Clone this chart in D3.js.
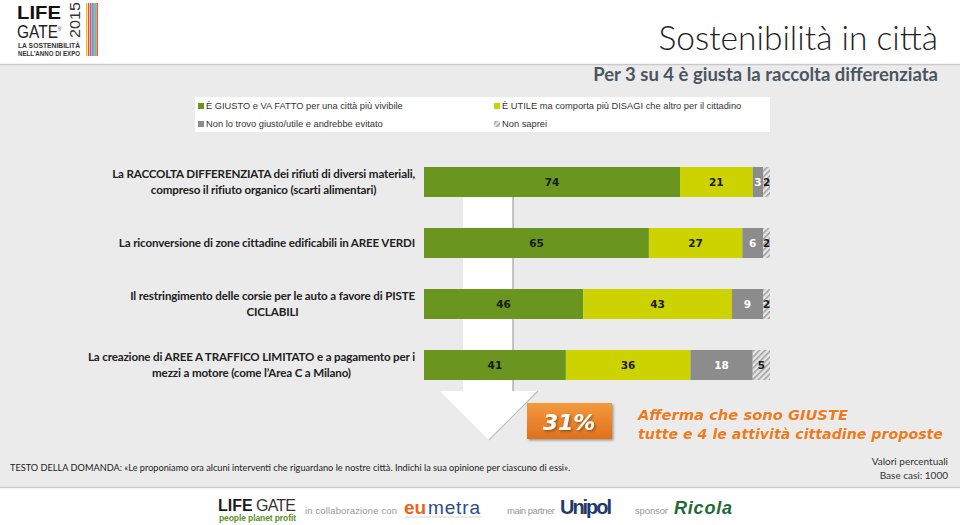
<!DOCTYPE html>
<html><head><meta charset="utf-8">
<script src="https://cdn.jsdelivr.net/npm/d3@7"></script>
<style>
html,body{margin:0;padding:0;background:#fff;}
svg{display:block;}
</style></head>
<body>
<svg id="c" width="960" height="525"></svg>
<script>
// ---- DATA ----
const categories = [
  ["La RACCOLTA DIFFERENZIATA dei rifiuti di diversi materiali,", "compreso il rifiuto organico (scarti alimentari)"],
  ["La riconversione di zone cittadine edificabili in AREE VERDI"],
  ["Il restringimento delle corsie per le auto a favore di PISTE", "CICLABILI"],
  ["La creazione di AREE A TRAFFICO LIMITATO e a pagamento per i", "mezzi a motore (come l\u2019Area C a Milano)"]
];
const giusto    = [74, 65, 46, 41];
const utile     = [21, 27, 43, 36];
const nonGiusto = [3, 6, 9, 18];
const nonSaprei = [2, 2, 2, 5];
const seriesNames = [
  "\u00C8 GIUSTO e VA FATTO per una citt\u00E0 pi\u00F9 vivibile",
  "\u00C8 UTILE ma comporta pi\u00F9 DISAGI che altro per il cittadino",
  "Non lo trovo giusto/utile e andrebbe evitato",
  "Non saprei"
];
const highlightValue = "31%";

// ---- DRAW ----
const svg = d3.select("#c");
const defs = svg.append("defs");
const pat = defs.append("pattern").attr("id","hatch").attr("patternUnits","userSpaceOnUse")
  .attr("width",4).attr("height",4).attr("patternTransform","rotate(45)");
pat.append("rect").attr("width",4).attr("height",4).attr("fill","#e6e6e6");
pat.append("rect").attr("width",1.5).attr("height",4).attr("fill","#9e9e9e");
const og = defs.append("linearGradient").attr("id","og").attr("x1",0).attr("y1",0).attr("x2",0).attr("y2",1);
og.append("stop").attr("offset","0%").attr("stop-color","#f39a3e");
og.append("stop").attr("offset","100%").attr("stop-color","#e0701c");
const sh = defs.append("filter").attr("id","sh").attr("x","-20%").attr("y","-20%").attr("width","140%").attr("height","140%");
sh.append("feDropShadow").attr("dx",1.5).attr("dy",1.5).attr("stdDeviation",1).attr("flood-color","#000").attr("flood-opacity",0.35);

// background band
svg.append("rect").attr("x",0).attr("y",64).attr("width",960).attr("height",424).attr("fill","#ebebeb");
svg.append("line").attr("x1",0).attr("x2",960).attr("y1",64.5).attr("y2",64.5).attr("stroke","#c9c9c9").attr("stroke-width",1.5);
svg.append("line").attr("x1",0).attr("x2",960).attr("y1",487.5).attr("y2",487.5).attr("stroke","#c9c9c9").attr("stroke-width",1.5);

// top-left logo
const lg = svg.append("g");
lg.append("text").attr("x",17).attr("y",19).text("LIFE").attr("textLength",44).attr("lengthAdjust","spacingAndGlyphs")
  .attr("font-family","Liberation Sans, Arial").attr("font-weight","bold").attr("font-size",19).attr("fill","#111");
const gate = lg.append("text").attr("transform","translate(17,38) scale(0.86,1)")
  .attr("font-family","Liberation Sans, Arial").attr("font-size",18).attr("fill","#222");
gate.append("tspan").text("GATE");
gate.append("tspan").attr("font-size",5).attr("dy",-7).text("\u00AE");
lg.append("text").attr("transform","translate(80,38) rotate(-90)").text("2015").attr("lengthAdjust","spacingAndGlyphs")
  .attr("font-family","Liberation Sans, Arial").attr("font-size",14).attr("fill","#333").attr("textLength",36);
lg.append("text").attr("x",18).attr("y",48).text("LA SOSTENIBILIT\u00C0").attr("lengthAdjust","spacingAndGlyphs")
  .attr("font-family","Liberation Sans, Arial").attr("font-weight","bold").attr("font-size",6.5).attr("fill","#333").attr("textLength",62);
lg.append("text").attr("x",18).attr("y",56).text("NELL\u2019ANNO DI EXPO").attr("lengthAdjust","spacingAndGlyphs")
  .attr("font-family","Liberation Sans, Arial").attr("font-weight","bold").attr("font-size",6.5).attr("fill","#333").attr("textLength",62);
const stripeCols = ["#f2c200","#e4402e","#9a3f95","#2e6db4","#3aa44a","#d6302a"];
stripeCols.forEach((c,i)=>{
  lg.append("rect").attr("x",86+i*2.1).attr("y",3).attr("width",1.3).attr("height",53).attr("fill",c);
});

// title
svg.append("text").attr("x",938).attr("y",50).attr("text-anchor","end").text("Sostenibilit\u00E0 in citt\u00E0")
  .attr("font-family","Lato, Open Sans, sans-serif").attr("font-weight",300).attr("font-size",33.5).attr("fill","#222");
svg.append("text").attr("x",938).attr("y",81).attr("text-anchor","end").text("Per 3 su 4 \u00E8 giusta la raccolta differenziata")
  .attr("font-family","Lato, Open Sans, sans-serif").attr("font-weight","bold").attr("font-size",18.5).attr("fill","#4b5661");

// legend
const colors = ["#6a961f","#ccd300","#8c8c8c","url(#hatch)"];
svg.append("rect").attr("x",195).attr("y",97).attr("width",575).attr("height",35).attr("fill","#fff");
const legPos = [[198,103],[494,103],[198,121],[494,121]];
seriesNames.forEach((n,i)=>{
  const [lx,ly] = legPos[i];
  svg.append("rect").attr("x",lx).attr("y",ly).attr("width",6).attr("height",6).attr("fill",colors[i]);
  svg.append("text").attr("x",lx+8).attr("y",ly+6.3).text(n)
    .attr("font-family","Liberation Sans, Arial, sans-serif").attr("font-size",9.3).attr("fill","#333");
});

// scales
const x = d3.scaleLinear().domain([0,100]).range([424,770]);
const y = d3.scaleBand().domain(d3.range(categories.length)).range([167,380]).paddingInner(31/61).paddingOuter(0);

// arrow shaft
const shaftTop = y(0)+y.bandwidth();
const shaftBottom = 391;
svg.append("rect").attr("x",463).attr("y",shaftTop).attr("width",50).attr("height",shaftBottom-shaftTop).attr("fill","#fff");
svg.append("line").attr("x1",513).attr("x2",513).attr("y1",shaftTop).attr("y2",shaftBottom).attr("stroke","#8e8e8e").attr("stroke-width",1);
svg.append("path").attr("d","M440,391 L538,391 L489,440 Z").attr("fill","#fff");
svg.append("path").attr("d","M538,391 L489,440").attr("stroke","#bdbdbd").attr("stroke-width",1.2).attr("fill","none");

// bars
const series = [giusto, utile, nonGiusto, nonSaprei];
const labelColors = ["#1a1a1a","#1a1a1a","#ffffff","#1a1a1a"];
const stacked = categories.map((c,i)=>{
  let acc = 0;
  return series.map((s,k)=>{ const d = {i,k,v:s[i],x0:acc,x1:acc+s[i]}; acc += s[i]; return d; });
});
const bars = svg.append("g");
stacked.forEach(row=>{
  row.forEach(d=>{
    bars.append("rect").attr("x",x(d.x0)).attr("y",y(d.i)).attr("width",x(d.x1)-x(d.x0)).attr("height",y.bandwidth())
      .attr("fill",colors[d.k]);
  });
  row.forEach(d=>{
    bars.append("text").attr("x",(x(d.x0)+x(d.x1))/2).attr("y",y(d.i)+y.bandwidth()/2+4)
      .attr("text-anchor","middle").text(d.v)
      .attr("font-family","DejaVu Sans, Verdana, sans-serif").attr("font-weight","bold").attr("font-size",10.5)
      .attr("fill",labelColors[d.k]);
  });
});

// category labels
const catG = svg.append("g");
categories.forEach((lines,i)=>{
  const cy = y(i)+y.bandwidth()/2;
  const t = catG.append("text").attr("font-family","Lato, Open Sans, sans-serif").attr("font-weight","bold")
    .attr("font-size",11.6).attr("letter-spacing",-0.15).attr("fill","#222").attr("text-anchor","middle");
  const lh = 16;
  const tspans = lines.map((l,j)=> t.append("tspan").attr("x",0).attr("y",cy + (j-(lines.length-1)/2)*lh + 4.2).text(l));
  const w = d3.max(tspans, s=> s.node().getComputedTextLength());
  tspans.forEach(s=> s.attr("x", 415 - w/2));
});

// highlight box
svg.append("rect").attr("x",527).attr("y",403).attr("width",85).attr("height",36).attr("fill","url(#og)").attr("filter","url(#sh)");
svg.append("text").attr("x",569).attr("y",430).attr("text-anchor","middle").text(highlightValue)
  .attr("font-family","DejaVu Sans, Verdana, sans-serif").attr("font-weight","bold").attr("font-style","italic")
  .attr("font-size",22).attr("fill","#fff").attr("filter","url(#sh)");
const hl = [["Afferma che sono GIUSTE",420,210],["tutte e 4 le attivit\u00E0 cittadine proposte",439,305]];
hl.forEach(([s,yy,w])=>{
  svg.append("text").attr("x",638).attr("y",yy).text(s).attr("textLength",w).attr("lengthAdjust","spacingAndGlyphs")
    .attr("font-family","DejaVu Sans, Verdana, sans-serif").attr("font-weight","bold").attr("font-style","italic")
    .attr("font-size",14.5).attr("fill","#ee7a1c").attr("stroke","#fff").attr("stroke-width",0.6).attr("paint-order","stroke");
});

// question text
svg.append("text").attr("x",10).attr("y",471).text("TESTO DELLA DOMANDA: \u00ABLe proponiamo ora alcuni interventi che riguardano le nostre citt\u00E0. Indichi la sua opinione per ciascuno di essi\u00BB.")
  .attr("font-family","Lato, Open Sans, sans-serif").attr("font-size",9.2).attr("fill","#222");
svg.append("text").attr("x",948).attr("y",465).attr("text-anchor","end").text("Valori percentuali")
  .attr("font-family","Lato, Open Sans, sans-serif").attr("font-size",10).attr("fill","#333");
svg.append("text").attr("x",948).attr("y",479).attr("text-anchor","end").text("Base casi: 1000")
  .attr("font-family","Lato, Open Sans, sans-serif").attr("font-size",10).attr("fill","#333");

// footer logos
const ft = svg.append("g").attr("font-family","Liberation Sans, Arial, sans-serif");
ft.append("text").attr("x",218).attr("y",511).text("LIFE").attr("font-weight","bold").attr("font-size",16).attr("fill","#1a1a1a");
ft.append("text").attr("x",256).attr("y",511).text("GATE").attr("font-size",16).attr("fill","#333").attr("textLength",40);
ft.append("text").attr("x",219).attr("y",521).text("people planet profit").attr("font-weight","bold").attr("font-size",8.5).attr("fill","#5a8f1f").attr("textLength",77);
ft.append("text").attr("x",305).attr("y",514).text("in collaborazione con").attr("font-size",9.5).attr("fill","#999").attr("textLength",92);
ft.append("text").attr("x",404).attr("y",514).text("eu").attr("font-weight","bold").attr("font-size",19).attr("fill","#e8651c");
ft.append("text").attr("x",428).attr("y",514).text("metra").attr("font-size",19).attr("fill","#2b4a8a").attr("textLength",52);
ft.append("line").attr("x1",405).attr("x2",481).attr("y1",517).attr("y2",517).attr("stroke","#bbb").attr("stroke-width",0.6);
ft.append("text").attr("x",507).attr("y",514).text("main partner").attr("font-size",9.5).attr("fill","#999").attr("textLength",48);
ft.append("text").attr("x",560).attr("y",514).text("Unipol").attr("font-weight","bold").attr("font-size",20).attr("fill","#1f3a6e").attr("textLength",52);
ft.append("text").attr("x",635).attr("y",514).text("sponsor").attr("font-size",9.5).attr("fill","#999").attr("textLength",33);
ft.append("text").attr("x",674).attr("y",514).text("Ricola").attr("font-weight","bold").attr("font-style","italic").attr("font-size",18).attr("fill","#1e6a35").attr("textLength",58);
</script>
</body></html>
